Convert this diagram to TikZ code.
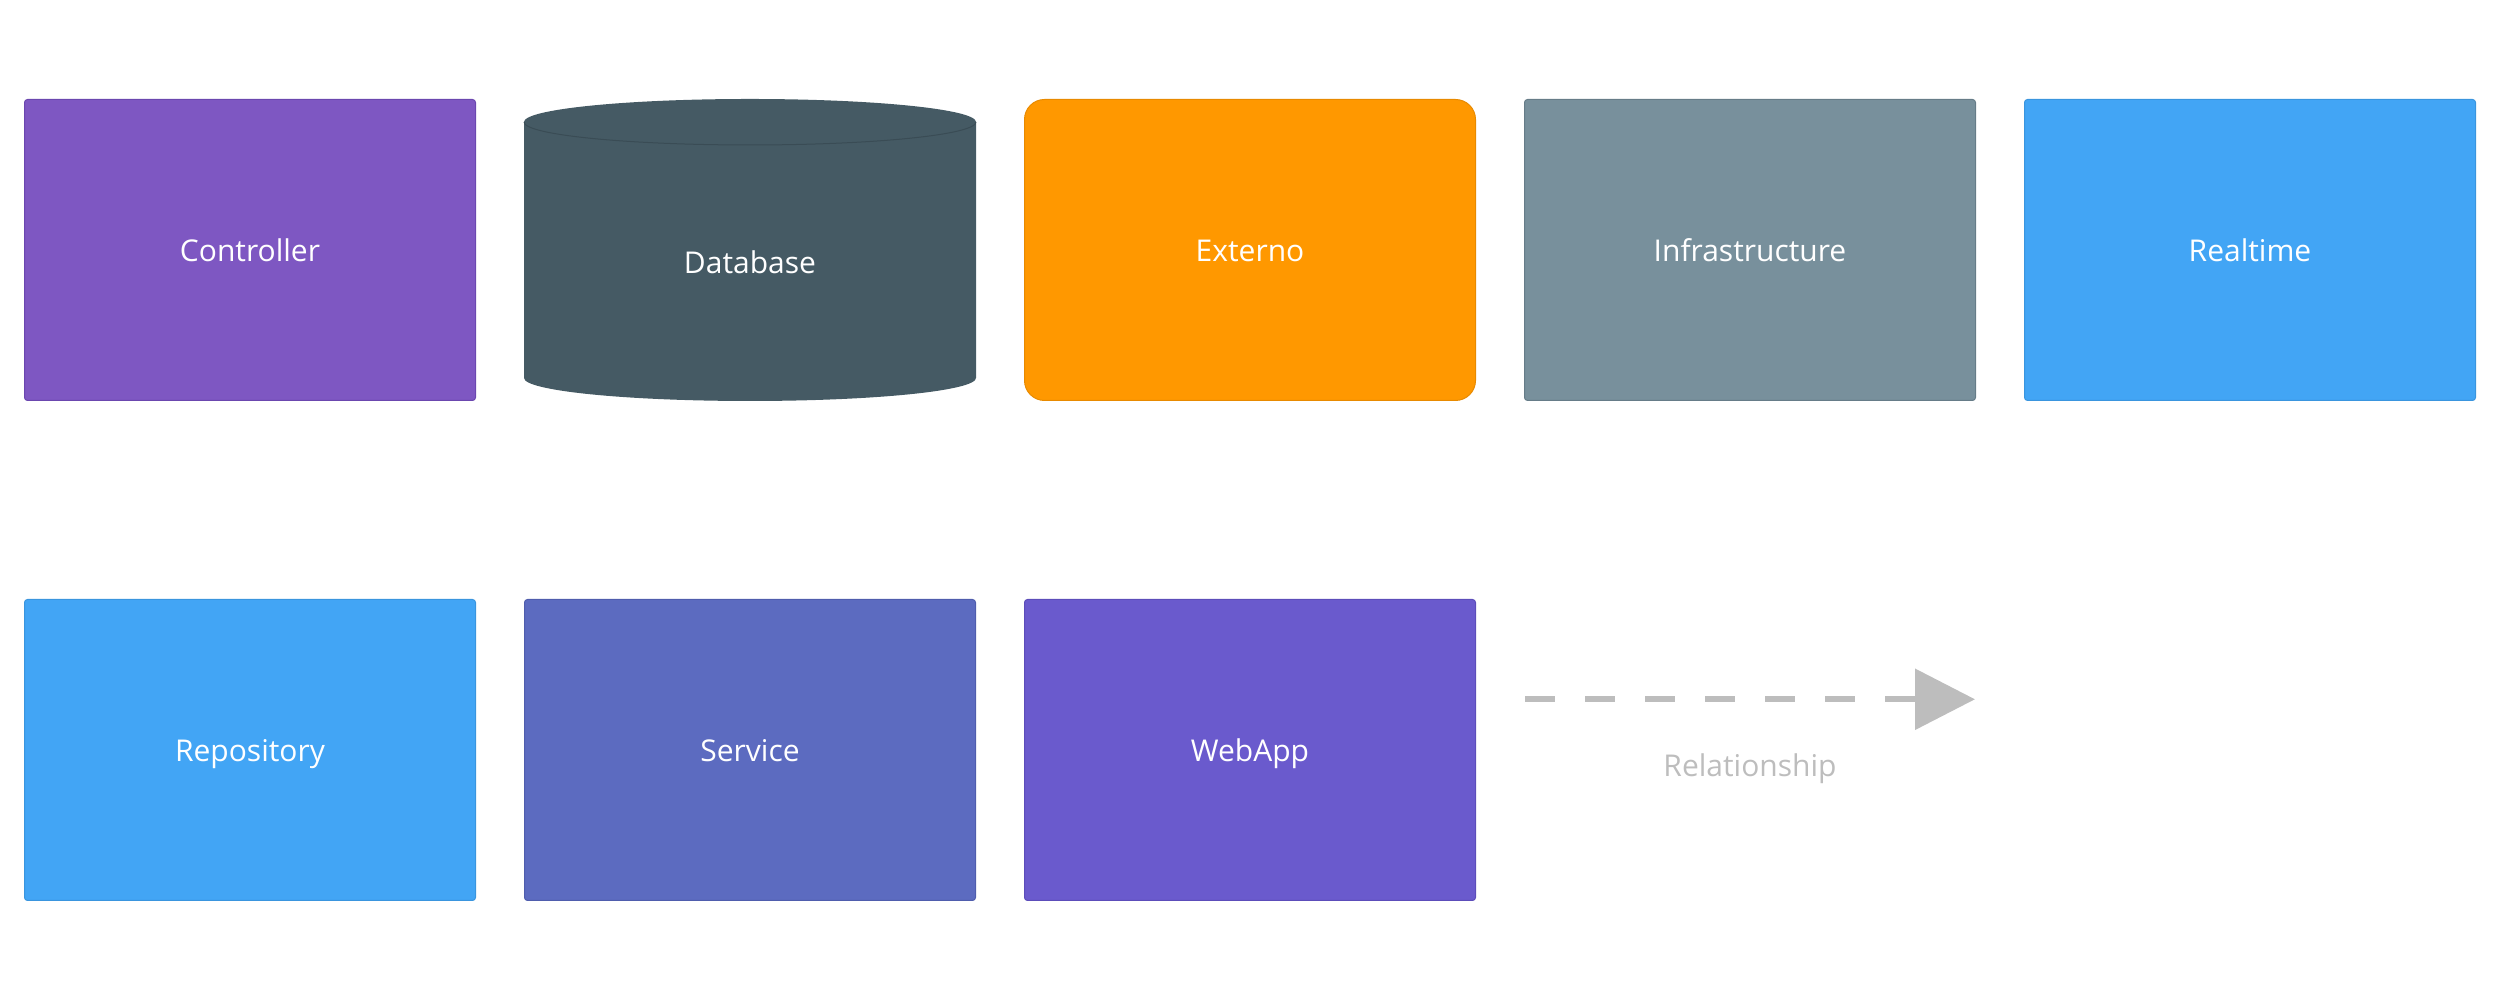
\documentclass[tikz,border=0pt]{standalone}
\usepackage{fontspec}
\setmainfont{Open Sans}
\usetikzlibrary{arrows.meta}

\definecolor{ctrlfill}{HTML}{7E57C2}
\definecolor{ctrlline}{HTML}{6B47AF}
\definecolor{dbfill}{HTML}{455A64}
\definecolor{dbline}{HTML}{3A4C55}
\definecolor{extfill}{HTML}{FF9800}
\definecolor{extline}{HTML}{E88A00}
\definecolor{infrafill}{HTML}{78909C}
\definecolor{infraline}{HTML}{667C88}
\definecolor{rtfill}{HTML}{42A5F5}
\definecolor{rtline}{HTML}{3A95DE}
\definecolor{svcfill}{HTML}{5C6BC0}
\definecolor{svcline}{HTML}{4F5DAD}
\definecolor{webfill}{HTML}{6A5ACD}
\definecolor{webline}{HTML}{5C4DBA}
\definecolor{relgray}{HTML}{BDBDBD}

\tikzset{
  box/.style={draw, line width=0.3pt, rounded corners=0.9pt, text=white,
    minimum width=135.3pt, minimum height=90.3pt, inner sep=0pt,
    text height=0.714em, text depth=0pt,
    font=\fontsize{9}{11}\selectfont},
  boxlabel/.style={text=white, inner sep=0pt, text height=0.714em, text depth=0pt,
    font=\fontsize{9}{11}\selectfont},
  relarrow/.style={relgray, line width=1.8pt, dash pattern=on 9pt off 9pt,
    -{Triangle[length=18pt,width=18pt]}}
}

\begin{document}
\begin{tikzpicture}[x=0.3pt,y=0.3pt]
	\useasboundingbox (0,0) rectangle (2500,1000);
	% top row
	\node (controller) [box, fill=ctrlfill, draw=ctrlline] at (250,750) {Controller};
	\fill [dbfill] (524,878) -- (524,622) arc[start angle=180,end angle=360,x radius=226,y radius=23]
		-- (976,878) arc[start angle=0,end angle=180,x radius=226,y radius=23] -- cycle;
	\draw [dbline, line width=0.3pt] (524,878) arc[start angle=180,end angle=360,x radius=226,y radius=23];
	\node (database) [boxlabel] at (750,738) {Database};
	\node (externo) [box, fill=extfill, draw=extline, rounded corners=6pt] at (1250,750) {Externo};
	\node (infrastructure) [box, fill=infrafill, draw=infraline] at (1750,750) {Infrastructure};
	\node (realtime) [box, fill=rtfill, draw=rtline] at (2250,750) {Realtime};
	% bottom row
	\node (repository) [box, fill=rtfill, draw=rtline] at (250,250) {Repository};
	\node (service) [box, fill=svcfill, draw=svcline] at (750,250) {Service};
	\node (webapp) [box, fill=webfill, draw=webline] at (1250,250) {WebApp};
	% legend
	\coordinate (relstart) at (1525,300.7);
	\coordinate (relend) at (1975,300.7);
	\draw [relarrow] (relstart) -- (relend);
	\node (rellabel) [anchor=base, text=relgray, inner sep=0pt, font=\fontsize{9}{11}\selectfont] at (1750,223) {Relationship};
\end{tikzpicture}
\end{document}
